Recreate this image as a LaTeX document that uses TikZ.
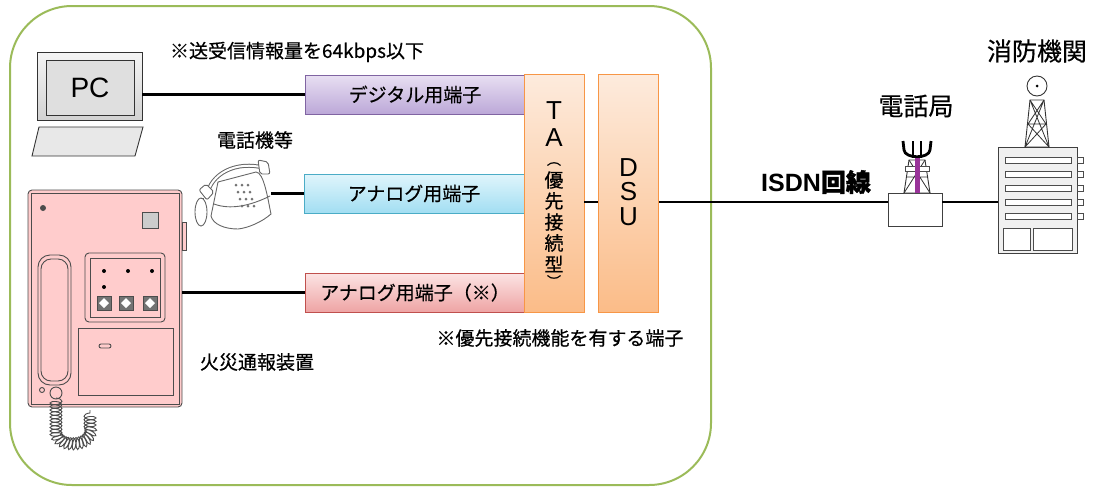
\documentclass[tikz,border=0pt]{standalone}
\usepackage{fontspec}
\setmainfont{Noto Sans CJK JP}[FakeBold=0.5, BoldFeatures={FakeBold=1.4}]
\newfontfamily\arialf{Liberation Sans}
\usetikzlibrary{calc,decorations.pathmorphing}

\definecolor{frameg}{HTML}{9BBB59}
\definecolor{purpB}{HTML}{8064A2}
\definecolor{purpT}{HTML}{E8DFF2}
\definecolor{purpD}{HTML}{BCA8D8}
\definecolor{cyanB}{HTML}{4BACC6}
\definecolor{cyanT}{HTML}{E0F5FC}
\definecolor{cyanD}{HTML}{A2DEF2}
\definecolor{redB}{HTML}{C0504D}
\definecolor{redT}{HTML}{FCE4E4}
\definecolor{redD}{HTML}{EEA4A4}
\definecolor{oraB}{HTML}{F79646}
\definecolor{oraT}{HTML}{FDEBDD}
\definecolor{oraD}{HTML}{FBBC88}
\definecolor{firepink}{HTML}{FFCCCC}
\definecolor{towerp}{HTML}{993399}

\tikzset{
  port/.style={draw=#1, line width=0.8pt, minimum width=220pt, minimum height=39pt,
    inner sep=0pt, font=\fontsize{19}{19}\selectfont},
  unit/.style={draw=oraB, line width=0.8pt, top color=oraT, bottom color=oraD,
    minimum width=60pt, minimum height=238pt, inner sep=0pt},
  wire/.style={line width=2.2pt},
  lbl/.style={font=\fontsize{19}{19}\selectfont, inner sep=0pt},
  big/.style={font=\arialf\fontsize{26}{26}\selectfont, inner sep=0pt},
  pic/.style={draw=black!70, line width=0.9pt},
}

\begin{document}
\begin{tikzpicture}[x=1pt,y=-1pt]
\useasboundingbox (0,0) rectangle (1102,488);
\draw[frameg, line width=2pt, rounded corners=62pt] (10,6) rectangle (711,485);

% PC
\node[pic, draw=black!80, top color=gray!8, bottom color=gray!35, minimum width=105pt, minimum height=68pt, inner sep=0pt] (pc) at (89.5,86) {};
\node[pic, draw=black!80, fill=gray!25, minimum width=88pt, minimum height=55pt, inner sep=0pt, font=\arialf\fontsize{28}{28}\selectfont] (scr) at (90,87.5) {PC};
\draw[pic, draw=black!80, fill=gray!18] (39,127) -- (143,127) -- (135,156) -- (32,156) -- cycle;

% terminals
\node[port=purpB, top color=purpT, bottom color=purpD] (dig) at (415,94.5) {デジタル用端子};
\node[port=cyanB, top color=cyanT, bottom color=cyanD] (ana) at (414,193.5) {アナログ用端子};
\node[port=redB, top color=redT, bottom color=redD] (anas) at (415,292.5) {アナログ用端子（※）};
\node[unit] (ta) at (554,193) {};
\node[unit] (dsu) at (628.5,193) {};
\node[big] at (554,111) {T};
\node[big] at (554,138) {A};
\node[lbl, font=\fontsize{14}{14}\selectfont] at (554,164) {︵};
\foreach \ch [count=\i] in {優,先,接,続,型}
  \node[lbl] at (554,{159+21*\i}) {\ch};
\node[lbl, font=\fontsize{14}{14}\selectfont] at (554,281) {︶};
\node[big] at (628.5,168) {D};
\node[big] at (628.5,192) {S};
\node[big] at (628.5,217) {U};

% telephone
\node[minimum width=80pt, minimum height=72pt, inner sep=0pt] (tel) at (231,194) {};
\begin{scope}[draw=black!60, line width=0.9pt]
  \draw[fill=white] (218,182) -- (256,172) .. controls (264,172) and (268,200) .. (271,214) .. controls (262,222) and (248,228) .. (238,229) .. controls (224,229) and (213,224) .. (211,216) -- cycle;
  \draw (214,204) .. controls (230,210) and (250,206) .. (270,196);
  \draw[line width=4pt] (207,196) .. controls (210,174) and (236,160) .. (265,168);
  \draw[line width=2pt, white] (207,196) .. controls (210,174) and (236,160) .. (265,168);
  \draw[fill=white, rounded corners=2pt] (199,190) -- (206,184) -- (214,192) -- (207,200) -- cycle;
  \draw[fill=white, rounded corners=2pt] (258,160) -- (268,162) -- (270,174) -- (260,174) -- cycle;
  \draw (201,212) ellipse (6 and 14);
  \draw (204,198) -- (201,198);
  \foreach \r in {0,...,3}
    \foreach \c in {0,1,2}
      \fill[black!55] ({236+6*\c+2*\r},{185+7*\r}) circle (1.5);
\end{scope}

% fire alarm unit
\node[pic, fill=firepink, rounded corners=4pt, minimum width=154pt, minimum height=217pt, inner sep=0pt] (fire) at (105,298.5) {};
\draw[pic] (31,193) rectangle (179,404);
\draw[pic, fill=firepink] (182,222) rectangle (186,250);
\fill[black!70] (43,208) circle (3);
\draw[pic, fill=gray!40] (142,212) rectangle (158,228);
\draw[pic, rounded corners=12pt] (38,255) rectangle (71,385);
\draw[pic, rounded corners=10pt] (41,259) rectangle (68,381);
\draw[pic, rounded corners=4pt] (85,253) rectangle (165,322);
\draw[pic] (90,258) rectangle (160,317);
\foreach \px in {104,128,152} \fill (\px,271) circle (2);
\fill (104,287) circle (2);
\foreach \px in {104,126,150} {
  \draw[pic, fill=black!55] (\px-7,296) rectangle (\px+7,310);
  \fill[white] (\px-5,303) -- (\px,298) -- (\px+5,303) -- (\px,308) -- cycle;
}
\draw[pic] (78,328) rectangle (173,395);
\draw[pic, rounded corners=2pt] (99,344) rectangle (111,348);
\draw[pic] (42,390) circle (2.5);
\draw[pic] (56,393) circle (6);
\draw[pic, decorate, decoration={coil, aspect=0.4, segment length=3.5pt, amplitude=6pt}]
  (56,398) -- (56,430) .. controls (56,448) and (90,448) .. (90,430) -- (90,410);

% exchange
\node[pic, draw=black!75, fill=white, minimum width=54pt, minimum height=33pt, inner sep=0pt] (kyoku) at (915,209.5) {};
\draw[black, line width=2.8pt] (903,141) -- (904,150) .. controls (905,159) and (929,159) .. (930,150) -- (931,141);
\draw[black, line width=2.8pt] (913,141) -- (913,158) (921,141) -- (921,158);
\draw[pic, draw=black!80, fill=white] (909,160) -- (925,160) -- (930,193) -- (904,193) -- cycle;
\draw[black!80, line width=0.8pt] (909,160) -- (930,193) (925,160) -- (904,193) (906,177) -- (928,177);
\draw[pic, fill=white] (905,166) rectangle (929,171);
\fill[towerp] (914.5,158) rectangle (919.5,193);

% fire department
\node[pic, draw=black!75, fill=gray!12, minimum width=79pt, minimum height=106pt, inner sep=0pt] (bldg) at (1037.5,200) {};
\draw[pic, draw=black!80] (1030,100) -- (1044,100) -- (1049,147) -- (1025,147) -- cycle;
\draw[black!80, line width=0.8pt] (1030,100) -- (1049,147) (1044,100) -- (1025,147) (1028,124) -- (1046,124)
  (1030,100) -- (1046,124) (1044,100) -- (1028,124) (1028,124) -- (1049,147) (1046,124) -- (1025,147);
\draw[pic, draw=black!80, fill=white] (1037,86) circle (10);
\fill (1037,86) circle (1.5);
\foreach \wy in {160,174,188,202,216} {
  \draw[pic, fill=white] (1005,\wy-3) rectangle (1071,\wy+3);
  \draw[pic, fill=white] (1077,\wy-3) rectangle (1083,\wy+3);
}
\draw[pic, fill=white] (1003,228) rectangle (1030,250);
\draw[pic, fill=white] (1033,228) rectangle (1072,250);

% wiring
\coordinate (lnk) at (0,202);
\draw[wire] (pc.east |- dig.west) -- (dig.west);
\draw[wire] (tel.east |- ana.west) -- (ana.west);
\draw[wire] (fire.east |- anas.west) -- (anas.west);
\draw[wire] (ta.east |- lnk) -- (dsu.west |- lnk);
\draw[wire] (dsu.east |- lnk) -- (kyoku.west |- lnk);
\draw[wire] (kyoku.east |- lnk) -- (bldg.west |- lnk);

% labels
\node[lbl] at (297,52) {※送受信情報量を64kbps以下};
\node[lbl] at (255,140) {電話機等};
\node[lbl] at (257,362) {火災通報装置};
\node[lbl] at (560,338) {※優先接続機能を有する端子};
\node[font=\fontsize{25}{25}\selectfont\bfseries, inner sep=0pt] at (816,182) {{\arialf ISDN}回線};
\node[font=\fontsize{25}{25}\selectfont, inner sep=0pt] at (916,106) {電話局};
\node[font=\fontsize{25}{25}\selectfont, inner sep=0pt] at (1037,51) {消防機関};
\end{tikzpicture}
\end{document}
